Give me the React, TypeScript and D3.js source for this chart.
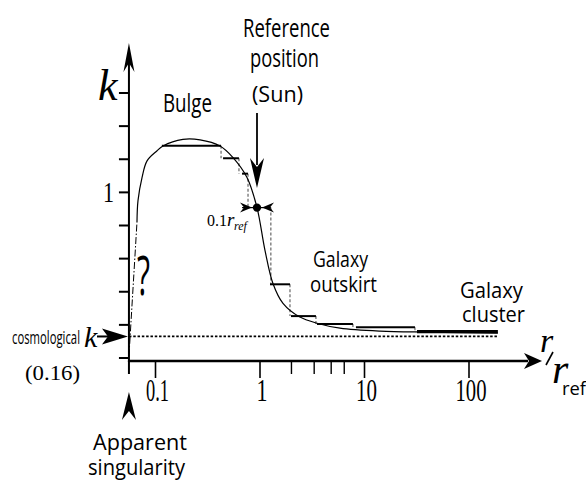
import React from "react";
import * as d3 from "d3";

// ---- data ----
const curveR = [0.0665, 0.068, 0.0743, 0.083, 0.103, 0.118, 0.183, 0.267, 0.414, 0.552, 0.751, 0.936, 1.116, 1.33, 1.66, 2.41, 3.51, 5.83, 14.1, 42.4, 189];
const curveK = [0.82, 0.95, 1.089, 1.19, 1.25, 1.28, 1.32, 1.317, 1.28, 1.21, 1.09, 0.908, 0.65, 0.45, 0.33, 0.247, 0.21, 0.18, 0.162, 0.156, 0.15];
const extrapR = [0.0557, 0.0665];
const extrapK = [0.01, 0.82];
const binStart = [0.115, 0.443, 0.673, 1.246, 1.98, 3.51, 8.28, 31.8];
const binEnd = [0.424, 0.629, 0.768, 1.936, 3.43, 7.75, 30.4, 189];
const binK = [1.281, 1.206, 1.113, 0.445, 0.253, 0.205, 0.186, 0.159];
const refR = 0.936;
const refK = 0.908;
const refLo = 0.673;
const refHi = 1.27;
const cosmoK = 0.13;
const axisOriginR = 0.0557;
const xMajorTicks = [0.1, 1, 10, 100];
const xMajorLabels = ["0.1", "1", "10", "100"];
const xMinorTicks = [2, 3.3, 4.8, 6.4];
const yTicks = [0, 0.2, 0.4, 0.6, 0.8, 1.0, 1.2, 1.4, 1.6];

const SANS = "'Open Sans', 'DejaVu Sans', sans-serif";
const SERIF = "'Liberation Serif', 'DejaVu Serif', serif";

function arrowHead(tx: number, ty: number, dir: "up" | "down" | "left" | "right", len: number, w: number, notch: number) {
  if (dir === "up") return `M${tx},${ty}L${tx + w},${ty + len}L${tx},${ty + len - notch}L${tx - w},${ty + len}Z`;
  if (dir === "down") return `M${tx},${ty}L${tx + w},${ty - len}L${tx},${ty - len + notch}L${tx - w},${ty - len}Z`;
  if (dir === "right") return `M${tx},${ty}L${tx - len},${ty - w}L${tx - len + notch},${ty}L${tx - len},${ty + w}Z`;
  return `M${tx},${ty}L${tx + len},${ty - w}L${tx + len - notch},${ty}L${tx + len},${ty + w}Z`;
}

export default function App() {
  const x = d3.scaleLog().domain([0.1, 100]).range([155.5, 469]);
  const y = d3.scaleLinear().domain([0, 1.6]).range([358, 93]);
  const x0 = x(axisOriginR);
  const yAxisY = 361;

  const curvePts = curveR.map((r, i) => [x(r), y(curveK[i])] as [number, number]);
  const line = d3.line().curve(d3.curveCatmullRom.alpha(0.5));
  const curvePath = line(curvePts) || "";
  const extrapPath = d3.line()(extrapR.map((r, i) => [x(r), y(extrapK[i])] as [number, number])) || "";

  const steps = [
    { s: binStart[0], e: binEnd[0], k: binK[0], draw: true },
    { s: binStart[1], e: binEnd[1], k: binK[1], draw: true },
    { s: binStart[2], e: binEnd[2], k: binK[2], draw: true },
    { s: refLo, e: refHi, k: refK, draw: false },
    ...binStart.slice(3).map((s, i) => ({ s, e: binEnd[i + 3], k: binK[i + 3], draw: true })),
  ];

  const rx = x(refR);
  const ry = y(refK);
  const ex1 = x(refLo);
  const ex2 = x(refHi);

  return (
    <svg width={586} height={482} style={{ position: "absolute", left: 0, top: 0, background: "#fff" }}>
      <line x1={x0} x2={x(189)} y1={y(cosmoK)} y2={y(cosmoK)} stroke="#000" strokeWidth={1.8} strokeDasharray="2.5,1.8" />

      {steps.slice(0, -1).map((st, i) => (
        <line key={"v" + i} x1={x(st.e)} x2={x(st.e)} y1={y(st.k)} y2={y(steps[i + 1].k)} stroke="#666" strokeWidth={1.2} strokeDasharray="3,2" />
      ))}
      {steps.filter((s) => s.draw).map((st, i) => (
        <line key={"h" + i} x1={x(st.s)} x2={x(st.e)} y1={y(st.k)} y2={y(st.k)} stroke="#000" strokeWidth={i === 7 ? 3.2 : 2} />
      ))}

      <path d={curvePath} fill="none" stroke="#000" strokeWidth={1.2} />
      <path d={extrapPath} fill="none" stroke="#000" strokeWidth={1} strokeDasharray="7,2,1.5,2" />

      <line x1={x0} x2={x0} y1={yAxisY + 1} y2={55} stroke="#000" strokeWidth={2} />
      <path d={arrowHead(x0, 43, "up", 29, 5.5, 9)} fill="#000" />
      <line x1={x0 - 1} x2={528} y1={yAxisY} y2={yAxisY} stroke="#000" strokeWidth={2.6} />
      <path d={arrowHead(542, yAxisY, "right", 18, 8, 5)} fill="#000" />

      {yTicks.map((t) => (
        <line key={"yt" + t} x1={x0 - 10} x2={x0} y1={y(t)} y2={y(t)} stroke="#000" strokeWidth={2} />
      ))}
      <line x1={x0} x2={x0} y1={yAxisY} y2={374} stroke="#000" strokeWidth={2} />
      {xMajorTicks.map((t) => (
        <line key={"xt" + t} x1={x(t)} x2={x(t)} y1={yAxisY} y2={378} stroke="#000" strokeWidth={1.6} />
      ))}
      {xMinorTicks.map((t) => (
        <line key={"xm" + t} x1={x(t)} x2={x(t)} y1={yAxisY} y2={374} stroke="#000" strokeWidth={1.4} />
      ))}
      {xMajorTicks.map((t, i) => (
        <text key={"xl" + t} x={x(t) + 2} y={401} fontFamily={SERIF} fontSize={31} textAnchor="middle"
          textLength={[23, 11, 21, 31][i]} lengthAdjust="spacingAndGlyphs">{xMajorLabels[i]}</text>
      ))}

      <text x={98} y={100} fontFamily={SERIF} fontStyle="italic" fontSize={44}>k</text>
      <text x={114} y={202} fontFamily={SERIF} fontSize={29} textAnchor="end" textLength={11} lengthAdjust="spacingAndGlyphs">1</text>

      <text x={540} y={352} fontFamily={SERIF} fontStyle="italic" fontSize={34}>r</text>
      <line x1={546} y1={365} x2={553} y2={352} stroke="#000" strokeWidth={1.6} />
      <text x={552} y={383} fontFamily={SERIF} fontStyle="italic" fontSize={42}>r</text>
      <text x={562} y={395} fontFamily={SANS} fontSize={18} textLength={24} lengthAdjust="spacingAndGlyphs">ref</text>

      <line x1={rx} x2={rx} y1={113} y2={165} stroke="#000" strokeWidth={1.8} />
      <path d={arrowHead(rx, 188, "down", 30, 7, 9)} fill="#000" />
      <line x1={ex1} x2={ex2} y1={ry} y2={ry} stroke="#000" strokeWidth={1.2} />
      <path d={arrowHead(rx - 5, ry, "right", 12, 5, 4)} fill="#000" />
      <path d={arrowHead(rx + 5, ry, "left", 12, 5, 4)} fill="#000" />
      <circle cx={rx} cy={ry} r={4.2} fill="#000" />
      <text x={207} y={226} fontFamily={SERIF} fontSize={16}>0.1</text>
      <text x={227} y={226} fontFamily={SERIF} fontStyle="italic" fontSize={19}>r</text>
      <text x={234} y={230} fontFamily={SERIF} fontStyle="italic" fontSize={12}>ref</text>

      <text x={243} y={37} fontFamily={SANS} fontSize={26} textLength={87} lengthAdjust="spacingAndGlyphs">Reference</text>
      <text x={250} y={67} fontFamily={SANS} fontSize={26} textLength={69} lengthAdjust="spacingAndGlyphs">position</text>
      <text x={252} y={102} fontFamily={SANS} fontSize={21} textLength={51} lengthAdjust="spacingAndGlyphs">(Sun)</text>
      <text x={163} y={112} fontFamily={SANS} fontSize={25} textLength={49} lengthAdjust="spacingAndGlyphs">Bulge</text>
      <text x={313} y={267} fontFamily={SANS} fontSize={22} textLength={55} lengthAdjust="spacingAndGlyphs">Galaxy</text>
      <text x={310} y={292} fontFamily={SANS} fontSize={22} textLength={67} lengthAdjust="spacingAndGlyphs">outskirt</text>
      <text x={460} y={298} fontFamily={SANS} fontSize={22} textLength={63} lengthAdjust="spacingAndGlyphs">Galaxy</text>
      <text x={462} y={322} fontFamily={SANS} fontSize={22} textLength={63} lengthAdjust="spacingAndGlyphs">cluster</text>
      <text x={137} y={295} fontFamily={SANS} fontSize={54} textLength={13} lengthAdjust="spacingAndGlyphs">?</text>

      <text x={12} y={344} fontFamily={SANS} fontSize={18} textLength={68} lengthAdjust="spacingAndGlyphs">cosmological</text>
      <text x={84} y={347} fontFamily={SERIF} fontStyle="italic" fontSize={30}>k</text>
      <line x1={97} x2={112} y1={y(cosmoK)} y2={y(cosmoK)} stroke="#000" strokeWidth={2} />
      <path d={arrowHead(x0 - 1, y(cosmoK), "right", 26, 8, 6)} fill="#000" />
      <text x={25} y={380} fontFamily={SERIF} fontSize={22} textLength={55} lengthAdjust="spacingAndGlyphs">(0.16)</text>

      <path d={arrowHead(x0, 392, "up", 28, 7, 9)} fill="#000" />
      <text x={93} y={450} fontFamily={SANS} fontSize={22} textLength={94} lengthAdjust="spacingAndGlyphs">Apparent</text>
      <text x={88} y={475} fontFamily={SANS} fontSize={22} textLength={97} lengthAdjust="spacingAndGlyphs">singularity</text>
    </svg>
  );
}
